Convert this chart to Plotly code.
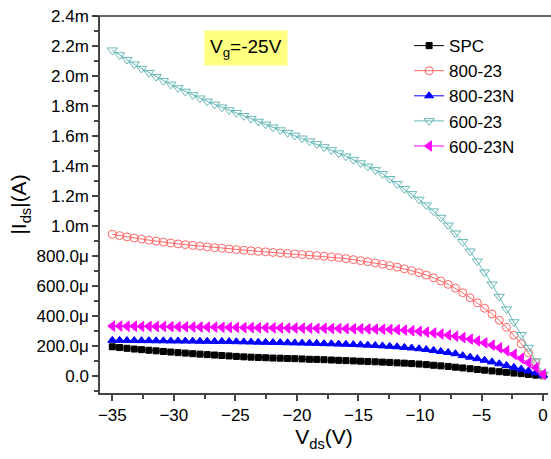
import plotly.graph_objects as go

# Drain-source voltage (V)
vds = [-35.00, -34.41, -33.81, -33.22, -32.63, -32.03, -31.44, -30.85, -30.25, -29.66,
       -29.07, -28.47, -27.88, -27.29, -26.69, -26.10, -25.51, -24.92, -24.32, -23.73,
       -23.14, -22.54, -21.95, -21.36, -20.76, -20.17, -19.58, -18.98, -18.39, -17.80,
       -17.20, -16.61, -16.02, -15.42, -14.83, -14.24, -13.64, -13.05, -12.46, -11.86,
       -11.27, -10.68, -10.08, -9.49, -8.90, -8.31, -7.71, -7.12, -6.53, -5.93,
       -5.34, -4.75, -4.15, -3.56, -2.97, -2.37, -1.78, -1.19, -0.59, 0.00]

# |Ids| in mA
spc = [0.195, 0.190, 0.185, 0.180, 0.176, 0.172, 0.168, 0.164, 0.160, 0.156,
       0.153, 0.149, 0.146, 0.143, 0.140, 0.137, 0.134, 0.131, 0.128, 0.126,
       0.124, 0.122, 0.120, 0.119, 0.117, 0.116, 0.114, 0.112, 0.111, 0.109,
       0.107, 0.105, 0.103, 0.101, 0.099, 0.097, 0.095, 0.093, 0.091, 0.088,
       0.086, 0.083, 0.080, 0.076, 0.072, 0.068, 0.064, 0.059, 0.054, 0.049,
       0.044, 0.039, 0.034, 0.029, 0.025, 0.020, 0.016, 0.011, 0.006, 0.002]

s800_23 = [0.945, 0.936, 0.928, 0.920, 0.913, 0.906, 0.899, 0.893, 0.887, 0.881,
           0.876, 0.871, 0.866, 0.861, 0.856, 0.852, 0.847, 0.843, 0.839, 0.835,
           0.831, 0.828, 0.824, 0.821, 0.817, 0.814, 0.810, 0.807, 0.803, 0.799,
           0.794, 0.789, 0.783, 0.776, 0.769, 0.762, 0.754, 0.745, 0.736, 0.726,
           0.715, 0.703, 0.689, 0.673, 0.655, 0.634, 0.611, 0.586, 0.556, 0.522,
           0.488, 0.452, 0.414, 0.372, 0.325, 0.272, 0.215, 0.155, 0.090, 0.008]

s800_23N = [0.238, 0.238, 0.237, 0.237, 0.236, 0.236, 0.235, 0.235, 0.234, 0.234,
            0.233, 0.233, 0.232, 0.232, 0.231, 0.231, 0.230, 0.229, 0.228, 0.227,
            0.226, 0.225, 0.224, 0.223, 0.222, 0.221, 0.220, 0.219, 0.218, 0.216,
            0.215, 0.213, 0.212, 0.210, 0.208, 0.206, 0.204, 0.201, 0.198, 0.195,
            0.191, 0.187, 0.182, 0.177, 0.171, 0.164, 0.157, 0.149, 0.136, 0.126,
            0.116, 0.105, 0.094, 0.082, 0.070, 0.058, 0.046, 0.034, 0.021, 0.006]

s600_23 = [2.172, 2.140, 2.109, 2.079, 2.050, 2.022, 1.995, 1.969, 1.944, 1.920,
           1.897, 1.874, 1.852, 1.831, 1.811, 1.792, 1.773, 1.755, 1.735, 1.716,
           1.697, 1.678, 1.659, 1.640, 1.622, 1.604, 1.585, 1.566, 1.547, 1.527,
           1.507, 1.486, 1.465, 1.443, 1.420, 1.398, 1.374, 1.348, 1.315, 1.281,
           1.248, 1.214, 1.177, 1.139, 1.099, 1.057, 1.005, 0.952, 0.895, 0.832,
           0.765, 0.692, 0.612, 0.530, 0.446, 0.360, 0.275, 0.190, 0.100, 0.012]

s600_23N = [0.333, 0.333, 0.332, 0.332, 0.331, 0.331, 0.330, 0.330, 0.329, 0.328,
            0.328, 0.327, 0.327, 0.326, 0.326, 0.325, 0.324, 0.324, 0.323, 0.323,
            0.322, 0.322, 0.321, 0.321, 0.320, 0.320, 0.319, 0.319, 0.318, 0.318,
            0.317, 0.317, 0.316, 0.315, 0.315, 0.314, 0.313, 0.312, 0.311, 0.309,
            0.306, 0.302, 0.298, 0.293, 0.287, 0.280, 0.273, 0.265, 0.256, 0.246,
            0.234, 0.221, 0.206, 0.188, 0.168, 0.145, 0.118, 0.088, 0.055, 0.012]

series_names = ["SPC", "800-23", "800-23N", "600-23", "600-23N"]

y_tickvals = [0.0, 0.2, 0.4, 0.6, 0.8, 1.0, 1.2, 1.4, 1.6, 1.8, 2.0, 2.2, 2.4]
y_ticktext = ["0.0", "200.0μ", "400.0μ", "600.0μ", "800.0μ", "1.0m", "1.2m",
              "1.4m", "1.6m", "1.8m", "2.0m", "2.2m", "2.4m"]
x_tickvals = [-35, -30, -25, -20, -15, -10, -5, 0]

FONT = "Arial, Liberation Sans, sans-serif"

styles = [
    dict(color="#000000", symbol="square", size=6),
    dict(color="#ff6666", symbol="circle-open", size=8),
    dict(color="#0000ff", symbol="triangle-up", size=8),
    dict(color="#66b8b8", symbol="triangle-down-open", size=9),
    dict(color="#ff00ff", symbol="triangle-left", size=9),
]
data = [spc, s800_23, s800_23N, s600_23, s600_23N]

fig = go.Figure()
for name, ys, st in zip(series_names, data, styles):
    fig.add_trace(go.Scatter(
        x=vds, y=ys, name=name, mode="lines+markers",
        line=dict(color=st["color"], width=1),
        marker=dict(color=st["color"], symbol=st["symbol"], size=st["size"],
                    line=dict(color=st["color"], width=1)),
        cliponaxis=False,
    ))

axis_common = dict(
    showgrid=False, zeroline=False, showline=True, linecolor="#444444",
    linewidth=1.5, ticks="outside", ticklen=6, tickwidth=1.5, tickcolor="#444444",
    tickfont=dict(family=FONT, size=17, color="#000000"),
)

fig.update_xaxes(
    range=[-36.0, 0.4], tickvals=x_tickvals,
    minor=dict(ticks="outside", ticklen=4, tickwidth=1.5, tickcolor="#444444", dtick=2.5, tick0=0),
    title=dict(text="V<sub>ds</sub>(V)", font=dict(family=FONT, size=21, color="#000000"), standoff=4),
    **axis_common,
)
fig.update_yaxes(
    range=[-0.113, 2.4], tickvals=y_tickvals, ticktext=y_ticktext,
    minor=dict(ticks="outside", ticklen=4, tickwidth=1.5, tickcolor="#444444", dtick=0.1, tick0=0),
    title=dict(text="|I<sub>ds</sub>|(A)", font=dict(family=FONT, size=21, color="#000000"), standoff=4),
    **axis_common,
)

fig.add_shape(type="line", xref="paper", yref="paper", x0=-0.018, x1=1.02, y0=1, y1=1,
              line=dict(color="#333333", width=1.5))

fig.add_annotation(
    x=0.326, y=0.915, xref="paper", yref="paper", showarrow=False,
    xanchor="center", yanchor="middle",
    text="V<sub>g</sub>=-25V", bgcolor="#ffff80",
    font=dict(family=FONT, size=19, color="#000000"), borderpad=5,
)

fig.update_layout(
    width=551, height=459,
    margin=dict(l=100, r=3, t=16, b=66),
    plot_bgcolor="white", paper_bgcolor="white",
    showlegend=True,
    legend=dict(x=0.69, y=0.968, xanchor="left", yanchor="top",
                bgcolor="rgba(0,0,0,0)", font=dict(family=FONT, size=17, color="#000000"),
                tracegroupgap=0, itemsizing="trace"),
)

fig.write_html("out.html", config={"displayModeBar": False},
               post_script="document.body.style.margin='0';document.body.style.overflow='hidden';")
